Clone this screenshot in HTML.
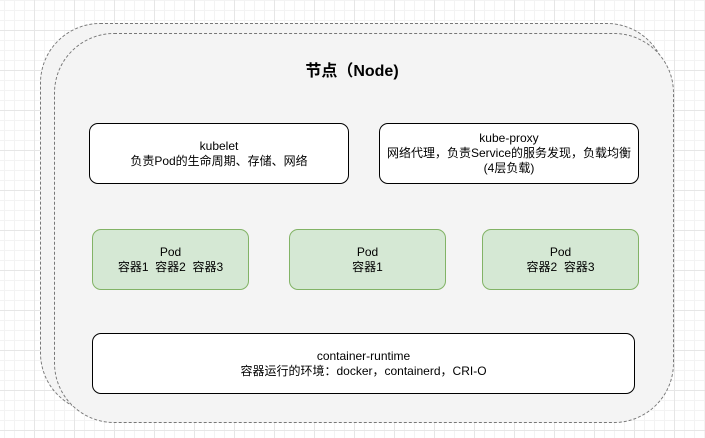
<!DOCTYPE html>
<html><head><meta charset="utf-8"><style>
html,body{margin:0;padding:0}
body{width:705px;height:438px;position:relative;overflow:hidden;background-color:#fff;
background-image:linear-gradient(#e6e6e6 1px,transparent 1px),linear-gradient(90deg,#e6e6e6 1px,transparent 1px),linear-gradient(#f3f3f3 1px,transparent 1px),linear-gradient(90deg,#f3f3f3 1px,transparent 1px);
background-size:40px 40px,40px 40px,10px 10px,10px 10px;background-position:-6px -10px;
font-family:"Liberation Sans","Noto Sans CJK SC",sans-serif;font-size:12px;color:#000}
.b{position:absolute;box-sizing:border-box;display:flex;align-items:center;justify-content:center;text-align:center;line-height:15px}
.w{background:#fff;border:1px solid #000;border-radius:9px}
.g{background:#d5e8d4;border:1px solid #82b366;border-radius:9px}
</style></head><body>
<div style="position:absolute;left:40px;top:23px;width:627px;height:390px;border:1px dashed #777;border-radius:60px;background:#f4f4f4;box-sizing:border-box"></div>
<div style="position:absolute;left:54px;top:33px;width:620px;height:390px;border:1px dashed #777;border-radius:60px;background:#f4f4f4;box-sizing:border-box"></div>
<div class="b" style="left:42px;top:57px;width:620px;height:28px;font-size:16px;font-weight:bold">节点（Node)</div>
<div class="b w" style="left:89px;top:123px;width:260px;height:61px">kubelet<br>负责Pod的生命周期、存储、网络</div>
<div class="b w" style="left:379px;top:123px;width:260px;height:61px">kube-proxy<br>网络代理，负责Service的服务发现，负载均衡<br>(4层负载)</div>
<div class="b g" style="left:92px;top:229px;width:157px;height:61px">Pod<br>容器1&nbsp;&nbsp;容器2&nbsp;&nbsp;容器3</div>
<div class="b g" style="left:289px;top:229px;width:157px;height:61px">Pod<br>容器1</div>
<div class="b g" style="left:482px;top:229px;width:157px;height:61px">Pod<br>容器2&nbsp;&nbsp;容器3</div>
<div class="b w" style="left:92px;top:333px;width:543px;height:61px">container-runtime<br>容器运行的环境：docker，containerd，CRI-O</div>
</body></html>
